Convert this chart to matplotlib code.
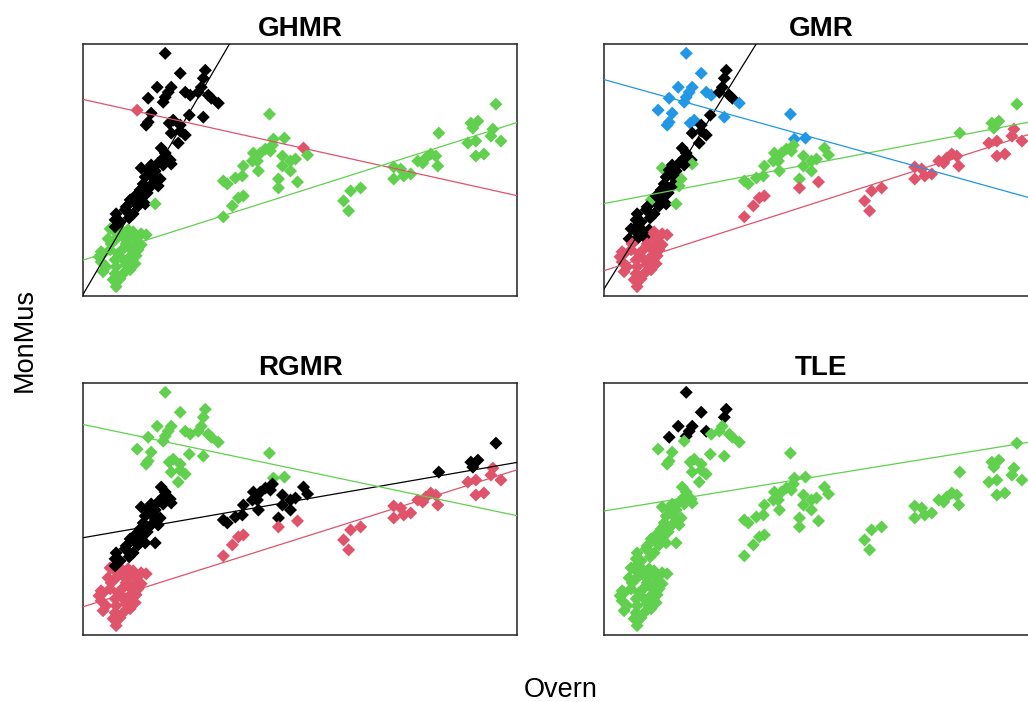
import matplotlib
matplotlib.use("Agg")
import matplotlib.pyplot as plt
import numpy as np

plt.rcParams['font.family'] = ['Liberation Sans', 'DejaVu Sans']

# R palette: 1 black, 2 red, 3 green, 4 blue
palette = {1: "#000000", 2: "#DF536B", 3: "#61D04F", 4: "#2297E6"}

methods = ["GHMR", "GMR", "RGMR", "TLE"]

# same observations in every panel, coloured by the class each method gives
overn = [
    # dense lower cluster
    11, 16, 22, 29, 34, 42, 47, 37, 31, 24, 17, 9, 12, 27, 36, 42, 24, 32, 39, 2,
    4, 11, 19, 0, 2, 7, 4, 16, 31, 37, 24, 17, 27, 36, 16, 24, 31, 14, 21, 17,
    # lower steep band
    66, 64, 71, 72, 59, 52, 42, 49, 56, 64, 46, 56, 61, 59, 51, 41, 42, 37, 46, 31,
    27, 34, 26, 17, 16, 21, 16, 39, 48, 56, 53, 44, 36, 30, 62,
    # upper steep cluster
    66, 81, 106, 104, 58, 72, 69, 66, 64, 49, 86, 91, 99, 102, 109, 112, 119, 52, 49, 47,
    74, 70, 81, 90, 104, 72, 81, 86, 79, 38,
    # middle cluster
    170, 174, 185, 204, 208, 154, 161, 166, 171, 173, 153, 158, 144, 159, 183, 191, 196, 183, 191, 179,
    179, 198, 136, 143, 124, 128, 144, 139, 133, 124,
    # right middle
    251, 261, 244, 249,
    # right clusters
    294, 301, 304, 294, 311, 318, 323, 326, 331, 336, 338, 368, 376, 376, 384, 393, 391, 401,
    339, 396, 371, 378, 373,
]
monmus = [
    59, 56, 58, 58, 56, 54, 53, 49, 51, 51, 49, 49, 44, 44, 43, 43, 39, 38, 38, 36,
    34, 38, 34, 31, 26, 21, 16, 28, 31, 32, 28, 21, 23, 24, 14, 14, 18, 8, 9, 1,
    135, 130, 128, 124, 125, 123, 120, 118, 117, 123, 111, 108, 109, 102, 101, 98, 89, 84, 84, 88,
    81, 74, 78, 74, 68, 66, 61, 82, 95, 84, 113, 104, 92, 70, 140,
    235, 215, 218, 210, 201, 201, 196, 191, 186, 190, 196, 193, 196, 201, 193, 190, 185, 175, 166, 163,
    168, 165, 163, 173, 171, 155, 157, 153, 145, 178,
    174, 149, 150, 140, 133, 135, 135, 139, 137, 143, 127, 127, 122, 117, 132, 127, 129, 122, 117, 109,
    100, 106, 110, 112, 107, 104, 92, 90, 82, 71,
    97, 100, 87, 77,
    121, 119, 112, 109, 114, 127, 125, 130, 134, 132, 122, 145, 147, 132, 134, 159, 152, 147,
    155, 184, 165, 167, 160,
]

cls_ghmr = (
    [3] * 40
    + [1] * 29 + [3] + [1] * 5
    + [1] * 29 + [2]
    + [3, 3, 3, 2] + [3] * 26
    + [3] * 4
    + [3] * 23
)
cls_gmr = (
    [1, 1, 1, 1, 2, 2, 2, 2, 2, 1, 1, 1] + [2] * 28
    + [1, 1, 1, 3, 1, 1, 3, 1, 1, 1, 1, 1, 3, 3, 1, 1, 1, 1, 1, 3,
       1, 1, 1, 1, 1, 1, 1, 1, 1, 3, 1, 1, 1, 1, 1]
    + [4, 4, 1, 1, 4, 4, 4, 4, 4, 4, 4, 4, 1, 1, 1, 1, 4, 4, 4, 4,
       4, 4, 1, 1, 4, 1, 1, 1, 1, 4]
    + [4, 4, 4, 3, 3, 3, 3, 3, 3, 3, 3, 3, 3, 3, 3, 3, 3, 3, 3, 3,
       2, 2, 3, 3, 3, 3, 2, 2, 2, 2]
    + [2] * 4
    + [2] * 18 + [3] * 5
)
cls_rgmr = (
    [2] * 40
    + [1] * 35
    + [3] * 30
    + [3, 3, 3, 1] + [1] * 16 + [2, 2] + [1] * 4 + [2] * 4
    + [2] * 4
    + [2] * 18 + [1] * 5
)
cls_tle = (
    [3] * 40
    + [3] * 35
    + [1, 1, 1, 1, 1, 1, 1, 1, 3, 1, 1] + [3] * 19
    + [3] * 30
    + [3] * 4
    + [3] * 23
)
classes = [cls_ghmr, cls_gmr, cls_rgmr, cls_tle]

# fitted component lines: (class, intercept, slope)
fits = [
    [(1, 20.7, 1.719), (2, 185.2, -0.2228), (3, 32.7, 0.3187)],
    [(1, 24.6, 1.618), (2, 22.2, 0.3224), (3, 87.4, 0.1927), (4, 204.2, -0.2792)],
    [(1, 92.0, 0.1744), (2, 25.0, 0.3172), (3, 199.4, -0.2113)],
    [(3, 118.6, 0.1627)],
]

x = np.array(overn, dtype=float)
y = np.array(monmus, dtype=float)
xpad = 0.04 * (x.max() - x.min())
ypad = 0.04 * (y.max() - y.min())

W, H = 1028, 702
fig = plt.figure(figsize=(W / 100, H / 100), dpi=100)

boxes = [(83, 44), (604, 44), (83, 383), (604, 383)]
bw, bh = 434, 252

for name, cls, fit, (left, top) in zip(methods, classes, fits, boxes):
    ax = fig.add_axes([left / W, 1 - (top + bh) / H, bw / W, bh / H])
    cols = [palette[c] for c in cls]
    ax.scatter(x, y, c=cols, marker="D", s=44, linewidths=0, zorder=2)
    for c, a, b in fit:
        ax.axline((0, a), slope=b, color=palette[c], lw=0.9, zorder=3)
    ax.set_xlim(x.min() - xpad, x.max() + xpad)
    ax.set_ylim(y.min() - ypad, y.max() + ypad)
    ax.set_xticks([])
    ax.set_yticks([])
    for sp in ax.spines.values():
        sp.set_linewidth(1.1)
        sp.set_color("#222222")
    ax.set_title(name, fontsize=20, fontweight="bold", pad=6)

fig.text(561 / W, 1 - 690 / H, "Overn", ha="center", va="center", fontsize=19.5)
fig.text(25 / W, 1 - 340 / H, "MonMus", ha="center", va="center",
         rotation=90, fontsize=19.5)

fig.savefig("out.png", dpi=100)
